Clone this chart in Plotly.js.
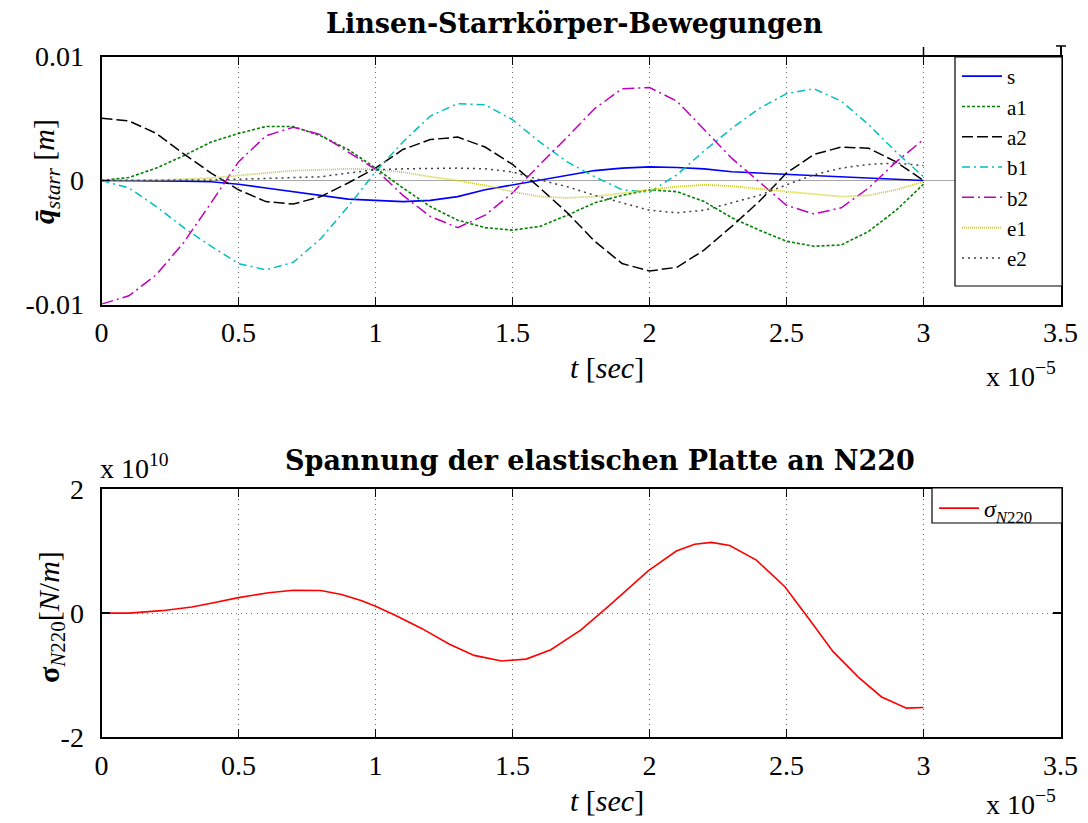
<!DOCTYPE html>
<html>
<head>
<meta charset="utf-8">
<script src="https://cdn.plot.ly/plotly-3.0.1.min.js"></script>
<style>
  html, body { margin: 0; padding: 0; background: #fff; }
  #chart { width: 1088px; height: 823px; }
</style>
</head>
<body>
<div id="chart"></div>
<script>
// Time axis in units of 1e-5 s
const tRigid = [0, 0.1, 0.2, 0.3, 0.4, 0.5, 0.6, 0.7, 0.8, 0.9, 1.0, 1.1, 1.2, 1.3, 1.4, 1.5,
                1.6, 1.7, 1.8, 1.9, 2.0, 2.1, 2.2, 2.3, 2.4, 2.5, 2.6, 2.7, 2.8, 2.9, 3.0];

// Rigid-body coordinates of the lens [m]
const qS  = [0, 0, -0.00003, -0.00006, -0.0001, -0.0003, -0.0006, -0.0009, -0.0012, -0.0015, -0.0016,
             -0.0017, -0.0016, -0.0013, -0.00075, -0.00035, 0.00005, 0.00046, 0.0008, 0.001, 0.0011,
             0.00105, 0.00094, 0.0007, 0.0006, 0.0005, 0.0004, 0.00027, 0.0002, 0.0001, 0];
const qA1 = [0, 0.00024, 0.001, 0.002, 0.0031, 0.0038, 0.00435, 0.00435, 0.0036, 0.0025, 0.001,
             -0.0006, -0.0021, -0.0032, -0.0038, -0.004, -0.0037, -0.0028, -0.0018, -0.0012, -0.00075,
             -0.0009, -0.0017, -0.003, -0.004, -0.0049, -0.0053, -0.0052, -0.0041, -0.0024, -0.0003];
const qA2 = [0.00503, 0.0048, 0.0038, 0.00215, 0.0006, -0.00075, -0.0017, -0.0019, -0.0013, -0.0002, 0.001,
             0.0025, 0.0033, 0.0035, 0.0027, 0.0013, -0.0006, -0.0026, -0.0049, -0.0067, -0.0073,
             -0.007, -0.0056, -0.0037, -0.0017, 0.0006, 0.0021, 0.0027, 0.0026, 0.0015, 0];
const qB1 = [0, -0.0006, -0.0021, -0.0038, -0.0053, -0.0067, -0.0072, -0.0066, -0.0047, -0.0021, 0.0007,
             0.0031, 0.0052, 0.0062, 0.0061, 0.0049, 0.0031, 0.0015, 0.0003, -0.00075, -0.00094,
             0.00046, 0.0024, 0.0042, 0.0058, 0.007, 0.0074, 0.0064, 0.0045, 0.0023, 0.0003];
const qB2 = [-0.00997, -0.0093, -0.0076, -0.005, -0.0018, 0.0015, 0.0036, 0.0043, 0.0037, 0.0023, 0.0009,
             -0.0012, -0.0029, -0.0038, -0.0028, -0.001, 0.0013, 0.0035, 0.0058, 0.0074, 0.0075,
             0.0064, 0.0041, 0.0018, -0.0001, -0.002, -0.0027, -0.0022, -0.0006, 0.0015, 0.0033];
const qE1 = [0, 0, 0.00003, 0.0001, 0.0002, 0.0004, 0.0006, 0.0008, 0.00086, 0.00094, 0.0009,
             0.00067, 0.0003, 0, -0.0004, -0.0009, -0.0013, -0.0014, -0.0013, -0.001, -0.00075,
             -0.0005, -0.00035, -0.00045, -0.0007, -0.0009, -0.0011, -0.0013, -0.0012, -0.00075, -0.0001];
const qE2 = [0, 0, 0, 0.00003, 0.00005, 0.0001, 0.00015, 0.0002, 0.0003, 0.0006, 0.00086,
             0.00094, 0.001, 0.001, 0.00094, 0.0007, 0.00005, -0.0005, -0.0012, -0.0018, -0.0024,
             -0.0026, -0.0024, -0.0018, -0.0012, -0.00035, 0.00046, 0.001, 0.0013, 0.0014, 0.0012];

const rigidNames = ['s', 'a1', 'a2', 'b1', 'b2', 'e1', 'e2'];

// Plate stress at node N220, in units of 1e10 N/m
const tStress = [0, 0.1, 0.22, 0.33, 0.4, 0.5, 0.61, 0.7, 0.8, 0.876, 0.95, 1.0, 1.07, 1.17, 1.27, 1.36,
                 1.46, 1.55, 1.64, 1.75, 1.855, 1.995, 2.098, 2.165, 2.226, 2.293, 2.39, 2.494, 2.585,
                 2.67, 2.762, 2.847, 2.938, 3.0];
const sigmaN220 = [0, 0, 0.04, 0.1, 0.16, 0.25, 0.33, 0.37, 0.365, 0.3, 0.2, 0.11, -0.03, -0.25, -0.5, -0.68,
                   -0.77, -0.74, -0.59, -0.27, 0.13, 0.68, 1.0, 1.11, 1.14, 1.09, 0.855, 0.425, -0.11,
                   -0.62, -1.03, -1.35, -1.53, -1.52];

// Tick labels
const tTickVals = [0, 0.5, 1, 1.5, 2, 2.5, 3, 3.5];
const tTickText = ['0', '0.5', '1', '1.5', '2', '2.5', '3', '3.5'];
const qTickVals = [-0.01, 0, 0.01];
const qTickText = ['-0.01', '0', '0.01'];
const sTickVals = [-2, 0, 2];
const sTickText = ['-2', '0', '2'];

const W = 1088, H = 823;
const px = v => v / W;          // horizontal pixel -> paper
const py = v => 1 - v / H;      // vertical pixel -> paper

const SERIF = 'Liberation Serif, Times New Roman, serif';
const TITLE_FONT = 'DejaVu Serif, serif';

const styles = [
  { color: '#0000ff', dash: 'solid', width: 1.6 },
  { color: '#008000', dash: '3px,2px', width: 1.6 },
  { color: '#000000', dash: '11px,4px', width: 1.5 },
  { color: '#00bfbf', dash: '8px,4px,2px,4px', width: 1.5 },
  { color: '#bf00bf', dash: '12px,4px,2px,4px', width: 1.5 },
  { color: '#cccc20', dash: '1px,1px', width: 1.8 },
  { color: '#404040', dash: '2px,4px', width: 1.5 }
];
const rigidSeries = [qS, qA1, qA2, qB1, qB2, qE1, qE2];

const traces = rigidSeries.map((ys, i) => ({
  type: 'scatter', mode: 'lines',
  x: tRigid, y: ys, name: rigidNames[i],
  xaxis: 'x', yaxis: 'y', legend: 'legend',
  line: styles[i]
}));

traces.push({
  type: 'scatter', mode: 'lines',
  x: tStress, y: sigmaN220,
  name: '<i>σ</i><sub><i>N</i>220</sub>',
  xaxis: 'x2', yaxis: 'y2', legend: 'legend2',
  line: { color: '#ff0000', width: 1.6 }
});

const tickFont = { family: SERIF, size: 28, color: '#000' };
const xDomain = [px(101.5), px(1060.5)];
const gridStyle = { showgrid: true, gridcolor: '#6a6a6a', griddash: '1px,4px', gridwidth: 1 };

function xAxis(anchor) {
  return Object.assign({
    domain: xDomain, anchor: anchor, range: [0, 3.5],
    tickvals: tTickVals, ticktext: tTickText,
    ticks: 'inside', ticklen: 8, tickwidth: 1.5, tickcolor: '#000',
    showline: true, linecolor: '#000', linewidth: 2, mirror: 'ticks',
    zeroline: false, tickfont: tickFont, ticklabelstandoff: 2,
    automargin: false, fixedrange: true
  }, gridStyle);
}

function legendBox(x0, y0, x1, y1) {
  return { type: 'rect', layer: 'above', xref: 'paper', yref: 'paper',
           x0: px(x0), x1: px(x1), y0: py(y1), y1: py(y0),
           fillcolor: '#fff', line: { color: '#000', width: 1.2 } };
}

const layout = {
  width: W, height: H,
  margin: { l: 0, r: 0, t: 0, b: 0 },
  paper_bgcolor: '#fff', plot_bgcolor: '#fff',
  font: { family: SERIF, color: '#000' },
  showlegend: true,
  xaxis: xAxis('y'),
  yaxis: {
    domain: [py(304.5), py(56.5)], anchor: 'x', range: [-0.01, 0.01],
    tickvals: qTickVals, ticktext: qTickText,
    ticks: 'inside', ticklen: 8, tickwidth: 1.5, tickcolor: '#000',
    showline: true, linecolor: '#000', linewidth: 2, mirror: 'ticks',
    showgrid: false,
    zeroline: true, zerolinecolor: '#a8a8a8', zerolinewidth: 1.5,
    tickfont: tickFont, ticklabelstandoff: 10, automargin: false, fixedrange: true
  },
  xaxis2: xAxis('y2'),
  yaxis2: Object.assign({
    domain: [py(737.3), py(489)], anchor: 'x2', range: [-2, 2],
    tickvals: sTickVals, ticktext: sTickText,
    ticks: 'inside', ticklen: 8, tickwidth: 1.5, tickcolor: '#000',
    showline: true, linecolor: '#000', linewidth: 2, mirror: 'ticks',
    zeroline: false,
    tickfont: tickFont, ticklabelstandoff: 10, automargin: false, fixedrange: true
  }, gridStyle),
  legend: {
    x: px(957), y: py(56), xanchor: 'left', yanchor: 'top',
    bgcolor: 'rgba(0,0,0,0)', borderwidth: 0,
    font: { family: SERIF, size: 21, color: '#000' },
    itemwidth: 40, tracegroupgap: 0, traceorder: 'normal'
  },
  legend2: {
    x: px(934), y: py(486), xanchor: 'left', yanchor: 'top',
    bgcolor: 'rgba(0,0,0,0)', borderwidth: 0,
    font: { family: SERIF, size: 24, color: '#000' },
    itemwidth: 40
  },
  annotations: [
    { text: '<b>Linsen-Starrkörper-Bewegungen</b>', xref: 'paper', yref: 'paper',
      x: px(574), y: py(23), xanchor: 'center', yanchor: 'middle', showarrow: false,
      font: { family: TITLE_FONT, size: 27, color: '#000' } },
    { text: '<b>Spannung der elastischen Platte an N220</b>', xref: 'paper', yref: 'paper',
      x: px(600), y: py(460), xanchor: 'center', yanchor: 'middle', showarrow: false,
      font: { family: TITLE_FONT, size: 27, color: '#000' } },
    { text: '<b><i>q\u0304</i></b><sub><i>starr</i></sub> [<i>m</i>]', xref: 'paper', yref: 'paper',
      x: px(46), y: py(172), xanchor: 'center', yanchor: 'middle', textangle: -90, showarrow: false,
      font: { family: SERIF, size: 30, color: '#000' } },
    { text: '<b>σ</b><sub><i>N</i>220</sub>[<i>N</i>/<i>m</i>]', xref: 'paper', yref: 'paper',
      x: px(51), y: py(617), xanchor: 'center', yanchor: 'middle', textangle: -90, showarrow: false,
      font: { family: SERIF, size: 30, color: '#000' } },
    { text: '<i>t</i> [<i>sec</i>]', xref: 'paper', yref: 'paper',
      x: px(607), y: py(368), xanchor: 'center', yanchor: 'middle', showarrow: false,
      font: { family: SERIF, size: 30, color: '#000' } },
    { text: '<i>t</i> [<i>sec</i>]', xref: 'paper', yref: 'paper',
      x: px(607), y: py(800), xanchor: 'center', yanchor: 'middle', showarrow: false,
      font: { family: SERIF, size: 30, color: '#000' } },
    { text: 'x 10<sup>−5</sup>', xref: 'paper', yref: 'paper',
      x: px(1058), y: py(374), xanchor: 'right', yanchor: 'middle', showarrow: false,
      font: { family: SERIF, size: 28, color: '#000' } },
    { text: 'x 10<sup>−5</sup>', xref: 'paper', yref: 'paper',
      x: px(1058), y: py(802), xanchor: 'right', yanchor: 'middle', showarrow: false,
      font: { family: SERIF, size: 28, color: '#000' } },
    { text: 'x 10<sup>10</sup>', xref: 'paper', yref: 'paper',
      x: px(98), y: py(466), xanchor: 'left', yanchor: 'middle', showarrow: false,
      font: { family: SERIF, size: 28, color: '#000' } }
  ],
  shapes: [
    // legend frames
    legendBox(955, 57, 1062, 286),
    legendBox(932, 488, 1062, 523),
    // small axis stubs above the upper frame
    { type: 'line', xref: 'paper', yref: 'paper', x0: px(1061), x1: px(1061), y0: py(56.5), y1: py(46),
      line: { color: '#000', width: 2 } },
    { type: 'line', xref: 'paper', yref: 'paper', x0: px(1056), x1: px(1066), y0: py(46), y1: py(46),
      line: { color: '#000', width: 1.5 } },
    { type: 'line', xref: 'x', yref: 'paper', x0: 3, x1: 3, y0: py(56.5), y1: py(47),
      line: { color: '#000', width: 1.5 } }
  ]
};

Plotly.newPlot('chart', traces, layout, { displayModeBar: false, staticPlot: true });
</script>
</body>
</html>
